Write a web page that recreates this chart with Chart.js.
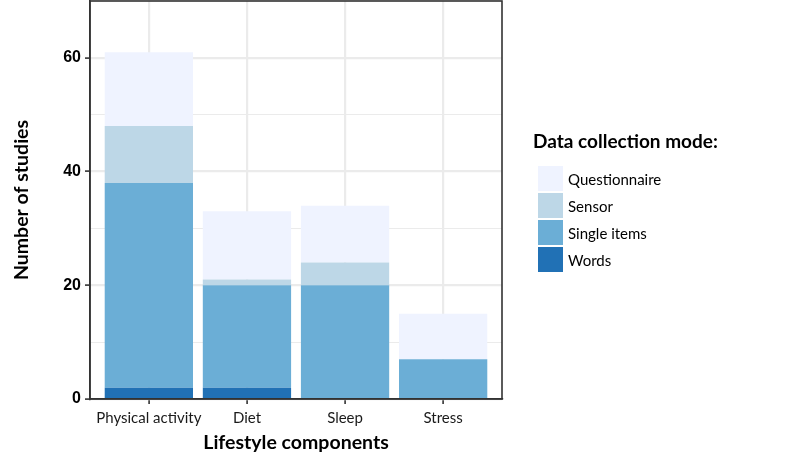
<!DOCTYPE html>
<html>
<head>
<meta charset="utf-8">
<script src="https://cdn.jsdelivr.net/npm/chart.js@4.4.1/dist/chart.umd.min.js"></script>
<style>
  html, body { margin: 0; padding: 0; background: #ffffff; }
  #wrap { position: relative; width: 785px; height: 464px; }
  canvas { position: absolute; left: 0; top: 0; }
  #legend { position: absolute; left: 533px; top: 129px; font-family: Lato, sans-serif; color: #000; }
  #legend .title { font-weight: bold; font-size: 19px; line-height: 24px; margin-bottom: 12px; white-space: nowrap; }
  #legend .item { display: flex; align-items: center; height: 27px; margin-left: 5px; }
  #legend .box { width: 25px; height: 25px; margin-right: 5px; }
  #legend .lbl { font-size: 15px; white-space: nowrap; }
</style>
</head>
<body>
<div id="wrap">
  <canvas id="c" width="785" height="464"></canvas>
  <div id="legend"></div>
</div>
<script>
const categories = ["Physical activity", "Diet", "Sleep", "Stress"];
const words        = [2, 2, 0, 0];
const singleItems  = [36, 18, 20, 7];
const sensor       = [10, 1, 4, 0];
const questionnaire= [13, 12, 10, 8];
const seriesNames  = ["Words", "Single items", "Sensor", "Questionnaire"];
const seriesColors = ["#2171b5", "#6baed6", "#bdd7e7", "#eff3ff"];
const yTickLabels  = [0, 20, 40, 60];
const legendTitle  = "Data collection mode:";

const seriesValues = [words, singleItems, sensor, questionnaire];

const datasets = seriesValues.map((vals, si) => ({
  label: seriesNames[si],
  data: vals.map((v, i) => ({ x: i + 1, y: v })),
  backgroundColor: seriesColors[si],
  borderWidth: 0,
  barPercentage: 0.9,
  categoryPercentage: 1.0,
  stack: 's'
}));

const borderPlugin = {
  id: 'panelBorder',
  afterDatasetsDraw(chart) {
    const a = chart.chartArea, ctx = chart.ctx;
    ctx.save();
    ctx.strokeStyle = '#333333';
    ctx.lineWidth = 1.6;
    ctx.strokeRect(a.left, a.top, a.right - a.left, a.bottom - a.top);
    ctx.restore();
  }
};

new Chart(document.getElementById('c'), {
  type: 'bar',
  data: { datasets },
  options: {
    responsive: false,
    animation: false,
    layout: { padding: { left: 0, right: 283, top: 1, bottom: 0 } },
    plugins: { legend: { display: false }, tooltip: { enabled: false } },
    scales: {
      x: {
        type: 'linear',
        min: 0.4, max: 4.6,
        stacked: true,
        offset: false,
        afterBuildTicks(s) { s.ticks = categories.map((_, i) => ({ value: i + 1 })); },
        afterFit(s) { s.height = 65; s.paddingLeft = 0; s.paddingRight = 0; },
        ticks: {
          callback: (v) => categories[Math.round(v) - 1] || '',
          font: { family: 'Lato', size: 15 },
          color: '#1a1a1a',
          padding: 5,
          maxRotation: 0,
          autoSkip: false
        },
        grid: { offset: false, color: '#ebebeb', lineWidth: 2.2, tickLength: 5, tickColor: '#333333', tickWidth: 1.6, drawOnChartArea: true },
        border: { display: true, color: '#333333', width: 1.6 },
        title: { display: true, text: 'Lifestyle components', font: { family: 'Lato', size: 19.5, weight: 'bold' }, color: '#000', padding: { top: 0, bottom: 10 } }
      },
      y: {
        stacked: true,
        min: 0, max: 70,
        afterBuildTicks(s) {
          const t = [];
          for (let v = 0; v <= 70; v += 10) t.push({ value: v });
          s.ticks = t;
        },
        afterFit(s) { s.width = 90; s.paddingTop = 0; s.paddingBottom = 0; },
        ticks: {
          callback: (v) => yTickLabels.includes(v) ? String(v) : '',
          font: { family: 'Liberation Sans', size: 16, weight: 'bold' },
          color: '#000',
          padding: 4
        },
        grid: {
          color: '#ebebeb',
          lineWidth: (c) => (c.tick && c.tick.value % 20 === 0) ? 2.2 : 1.1,
          tickLength: 5,
          tickColor: (c) => (c.tick && c.tick.value % 20 === 0) ? '#333333' : 'rgba(0,0,0,0)',
          tickWidth: 1.6
        },
        border: { display: true, color: '#333333', width: 1.6 },
        title: { display: true, text: 'Number of studies', font: { family: 'Lato', size: 19.5, weight: 'bold' }, color: '#000', padding: { top: 10, bottom: 0 } }
      }
    }
  },
  plugins: [borderPlugin]
});

const lg = document.getElementById('legend');
const t = document.createElement('div');
t.className = 'title';
t.textContent = legendTitle;
lg.appendChild(t);
for (let i = seriesNames.length - 1; i >= 0; i--) {
  const it = document.createElement('div');
  it.className = 'item';
  const b = document.createElement('div');
  b.className = 'box';
  b.style.background = seriesColors[i];
  const l = document.createElement('span');
  l.className = 'lbl';
  l.textContent = seriesNames[i];
  it.appendChild(b); it.appendChild(l);
  lg.appendChild(it);
}
</script>
</body>
</html>
